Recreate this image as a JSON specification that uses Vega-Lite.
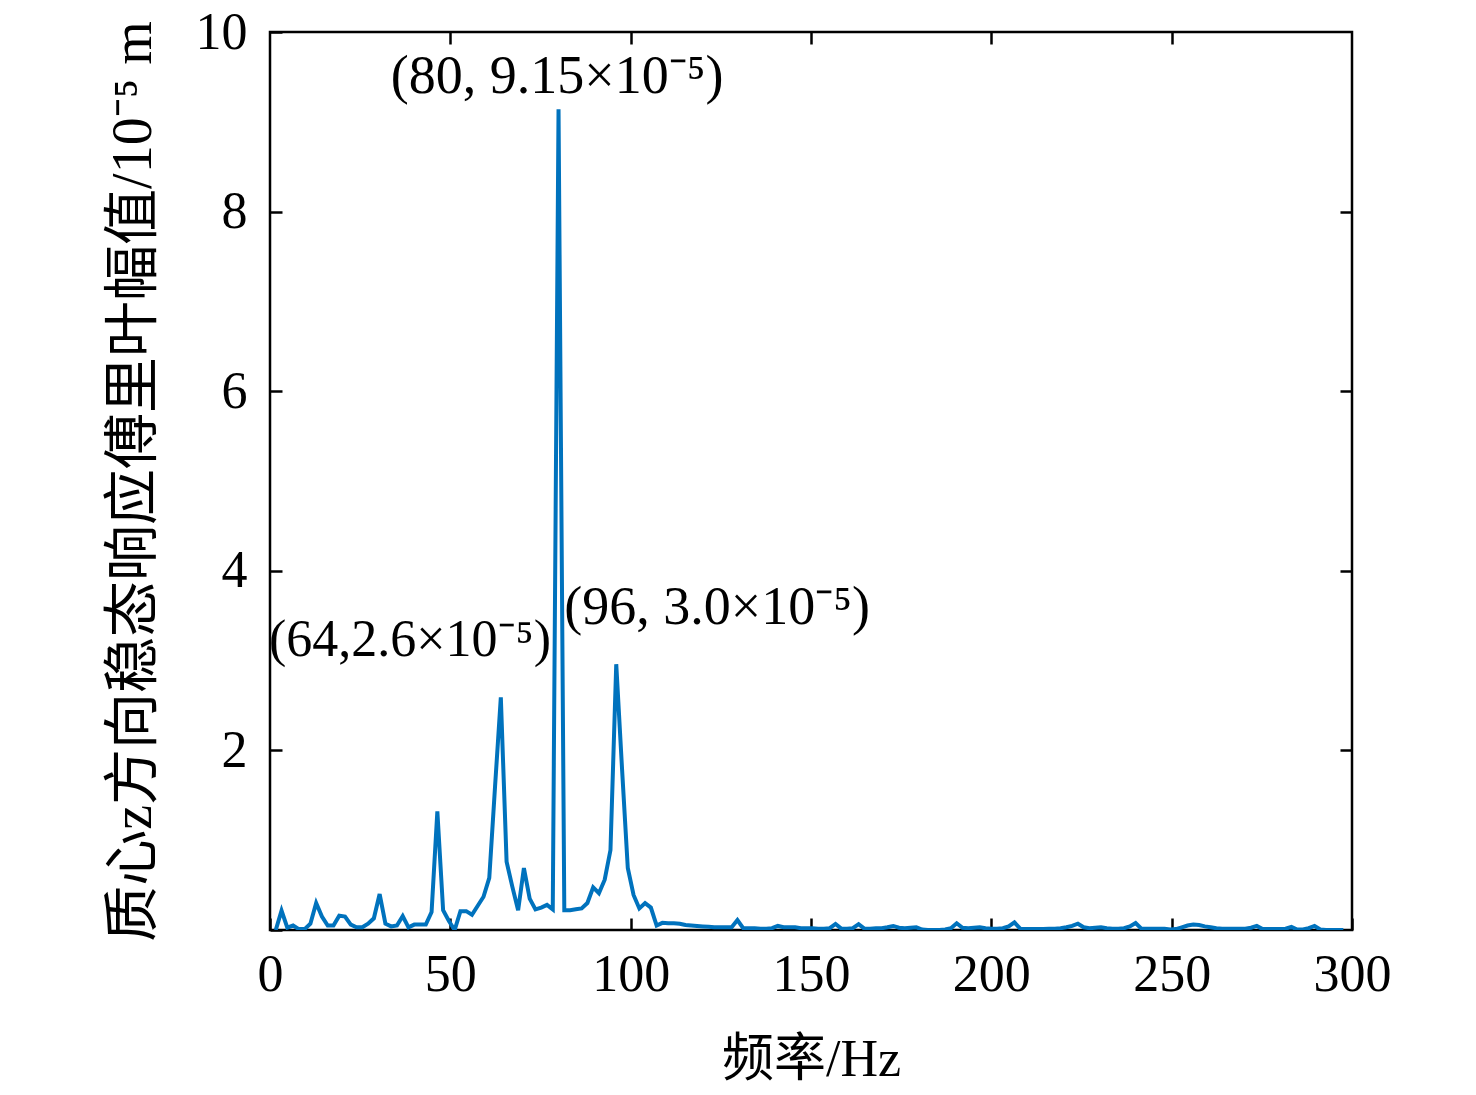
{
  "$schema": "https://vega.github.io/schema/vega-lite/v6.json",
  "width": 1082,
  "height": 898,
  "autosize": {"type": "none"},
  "padding": {"left": 270, "top": 32, "right": 124, "bottom": 165},
  "background": "white",
  "config": {
    "view": {"stroke": "black", "strokeWidth": 2.5},
    "font": "Liberation Serif",
    "axis": {
      "domain": false,
      "grid": false,
      "labelFlush": false,
      "tickColor": "black",
      "tickWidth": 2.5,
      "tickSize": -12,
      "labelFont": "Liberation Serif",
      "labelFontSize": 52,
      "labelColor": "black",
      "titleFont": "Liberation Serif, Noto Sans CJK SC",
      "titleFontSize": 52,
      "titleFontWeight": "normal",
      "titleColor": "black"
    }
  },
  "datasets": {
    "spectrum": [
      {"f": 1.6, "a": 0.0}, {"f": 3.2, "a": 0.215}, {"f": 4.8, "a": 0.026}, {"f": 6.4, "a": 0.05},
      {"f": 8.0, "a": 0.01}, {"f": 9.6, "a": 0.01}, {"f": 11.2, "a": 0.07}, {"f": 12.8, "a": 0.3},
      {"f": 14.4, "a": 0.15}, {"f": 16.0, "a": 0.05}, {"f": 17.6, "a": 0.05}, {"f": 19.2, "a": 0.16},
      {"f": 20.8, "a": 0.15}, {"f": 22.4, "a": 0.06}, {"f": 24.0, "a": 0.03}, {"f": 25.6, "a": 0.03},
      {"f": 27.2, "a": 0.07}, {"f": 28.8, "a": 0.13}, {"f": 30.4, "a": 0.4}, {"f": 32.0, "a": 0.07},
      {"f": 33.6, "a": 0.04}, {"f": 35.2, "a": 0.05}, {"f": 36.8, "a": 0.156}, {"f": 38.4, "a": 0.03},
      {"f": 40.0, "a": 0.06}, {"f": 41.6, "a": 0.06}, {"f": 43.2, "a": 0.06}, {"f": 44.8, "a": 0.2},
      {"f": 46.4, "a": 1.32}, {"f": 48.0, "a": 0.22}, {"f": 49.6, "a": 0.1}, {"f": 51.2, "a": 0.0},
      {"f": 52.8, "a": 0.21}, {"f": 54.4, "a": 0.21}, {"f": 56.0, "a": 0.17}, {"f": 57.6, "a": 0.27},
      {"f": 59.2, "a": 0.37}, {"f": 60.8, "a": 0.58}, {"f": 62.4, "a": 1.6}, {"f": 64.0, "a": 2.59},
      {"f": 65.6, "a": 0.76}, {"f": 67.2, "a": 0.48}, {"f": 68.8, "a": 0.22}, {"f": 70.4, "a": 0.69},
      {"f": 72.0, "a": 0.35}, {"f": 73.6, "a": 0.23}, {"f": 75.2, "a": 0.25}, {"f": 76.8, "a": 0.28},
      {"f": 78.4, "a": 0.23}, {"f": 80.0, "a": 9.14}, {"f": 81.6, "a": 0.22}, {"f": 83.2, "a": 0.22},
      {"f": 84.8, "a": 0.23}, {"f": 86.4, "a": 0.24}, {"f": 88.0, "a": 0.3}, {"f": 89.6, "a": 0.475},
      {"f": 91.2, "a": 0.41}, {"f": 92.8, "a": 0.56}, {"f": 94.4, "a": 0.89}, {"f": 96.0, "a": 2.96},
      {"f": 97.6, "a": 1.8}, {"f": 99.2, "a": 0.69}, {"f": 100.8, "a": 0.39}, {"f": 102.4, "a": 0.24},
      {"f": 104.0, "a": 0.3}, {"f": 105.6, "a": 0.25}, {"f": 107.2, "a": 0.05}, {"f": 108.8, "a": 0.08},
      {"f": 110.4, "a": 0.075}, {"f": 112.0, "a": 0.075}, {"f": 113.6, "a": 0.07}, {"f": 115.2, "a": 0.055},
      {"f": 116.8, "a": 0.05}, {"f": 118.4, "a": 0.045}, {"f": 120.0, "a": 0.04}, {"f": 121.6, "a": 0.035},
      {"f": 123.2, "a": 0.03}, {"f": 124.8, "a": 0.03}, {"f": 126.4, "a": 0.03}, {"f": 128.0, "a": 0.03},
      {"f": 129.6, "a": 0.11}, {"f": 131.2, "a": 0.02}, {"f": 132.8, "a": 0.02}, {"f": 134.4, "a": 0.02},
      {"f": 136.0, "a": 0.015}, {"f": 137.6, "a": 0.015}, {"f": 139.2, "a": 0.02}, {"f": 140.8, "a": 0.045},
      {"f": 142.4, "a": 0.03}, {"f": 144.0, "a": 0.03}, {"f": 145.6, "a": 0.03}, {"f": 147.2, "a": 0.02},
      {"f": 148.8, "a": 0.02}, {"f": 150.4, "a": 0.02}, {"f": 152.0, "a": 0.015}, {"f": 153.6, "a": 0.015},
      {"f": 155.2, "a": 0.02}, {"f": 156.8, "a": 0.067}, {"f": 158.4, "a": 0.015}, {"f": 160.0, "a": 0.015},
      {"f": 161.6, "a": 0.02}, {"f": 163.2, "a": 0.065}, {"f": 164.8, "a": 0.015}, {"f": 166.4, "a": 0.015},
      {"f": 168.0, "a": 0.02}, {"f": 169.6, "a": 0.02}, {"f": 171.2, "a": 0.03}, {"f": 172.8, "a": 0.045},
      {"f": 174.4, "a": 0.025}, {"f": 176.0, "a": 0.02}, {"f": 177.6, "a": 0.025}, {"f": 179.2, "a": 0.03},
      {"f": 180.8, "a": 0.005}, {"f": 182.4, "a": 0.0}, {"f": 184.0, "a": 0.0}, {"f": 185.6, "a": 0.0},
      {"f": 187.2, "a": 0.005}, {"f": 188.8, "a": 0.02}, {"f": 190.4, "a": 0.075}, {"f": 192.0, "a": 0.025},
      {"f": 193.6, "a": 0.02}, {"f": 195.2, "a": 0.025}, {"f": 196.8, "a": 0.03}, {"f": 198.4, "a": 0.02},
      {"f": 200.0, "a": 0.015}, {"f": 201.6, "a": 0.015}, {"f": 203.2, "a": 0.02}, {"f": 204.8, "a": 0.04},
      {"f": 206.4, "a": 0.085}, {"f": 208.0, "a": 0.015}, {"f": 209.6, "a": 0.01}, {"f": 211.2, "a": 0.01},
      {"f": 212.8, "a": 0.01}, {"f": 214.4, "a": 0.01}, {"f": 216.0, "a": 0.015}, {"f": 217.6, "a": 0.015},
      {"f": 219.2, "a": 0.02}, {"f": 220.8, "a": 0.03}, {"f": 222.4, "a": 0.045}, {"f": 224.0, "a": 0.07},
      {"f": 225.6, "a": 0.03}, {"f": 227.2, "a": 0.02}, {"f": 228.8, "a": 0.025}, {"f": 230.4, "a": 0.03},
      {"f": 232.0, "a": 0.02}, {"f": 233.6, "a": 0.015}, {"f": 235.2, "a": 0.015}, {"f": 236.8, "a": 0.02},
      {"f": 238.4, "a": 0.04}, {"f": 240.0, "a": 0.078}, {"f": 241.6, "a": 0.015}, {"f": 243.2, "a": 0.015},
      {"f": 244.8, "a": 0.015}, {"f": 246.4, "a": 0.015}, {"f": 248.0, "a": 0.015}, {"f": 249.6, "a": 0.005},
      {"f": 251.2, "a": 0.01}, {"f": 252.8, "a": 0.03}, {"f": 254.4, "a": 0.05}, {"f": 256.0, "a": 0.06},
      {"f": 257.6, "a": 0.055}, {"f": 259.2, "a": 0.04}, {"f": 260.8, "a": 0.03}, {"f": 262.4, "a": 0.02},
      {"f": 264.0, "a": 0.015}, {"f": 265.6, "a": 0.015}, {"f": 267.2, "a": 0.015}, {"f": 268.8, "a": 0.015},
      {"f": 270.4, "a": 0.015}, {"f": 272.0, "a": 0.025}, {"f": 273.6, "a": 0.045}, {"f": 275.2, "a": 0.01},
      {"f": 276.8, "a": 0.01}, {"f": 278.4, "a": 0.01}, {"f": 280.0, "a": 0.01}, {"f": 281.6, "a": 0.015},
      {"f": 283.2, "a": 0.035}, {"f": 284.8, "a": 0.005}, {"f": 286.4, "a": 0.005}, {"f": 288.0, "a": 0.02},
      {"f": 289.6, "a": 0.045}, {"f": 291.2, "a": 0.005}, {"f": 292.8, "a": 0.0}, {"f": 294.4, "a": 0.0},
      {"f": 296.0, "a": 0.0}, {"f": 297.6, "a": 0.0}
    ],
    "notes": [
      {"f": 79.6, "a": 9.5, "label": "(80, 9.15×10⁻⁵)"},
      {"f": 124.0, "a": 3.59, "label": "(96, 3.0×10⁻⁵)"}
    ],
    "notesTight": [
      {"f": 38.8, "a": 3.23, "label": "(64,2.6×10⁻⁵)"}
    ]
  },
  "layer": [
    {
      "data": {"name": "spectrum"},
      "mark": {"type": "line", "color": "#0072BD", "strokeWidth": 4, "clip": true},
      "encoding": {
        "x": {
          "field": "f",
          "type": "quantitative",
          "scale": {"domain": [0, 300], "nice": false},
          "axis": {
            "orient": "bottom",
            "values": [0, 50, 100, 150, 200, 250, 300],
            "labelPadding": 31,
            "title": "频率/Hz",
            "titlePadding": 34
          }
        },
        "y": {
          "field": "a",
          "type": "quantitative",
          "scale": {"domain": [0, 10], "nice": false},
          "axis": {
            "orient": "left",
            "values": [0, 2, 4, 6, 8, 10],
            "labelExpr": "datum.value == 0 ? '' : datum.label",
            "labelPadding": 35,
            "title": "质心z方向稳态响应傅里叶幅值/10⁻⁵ m",
            "titleFontSize": 56,
            "titlePadding": 33
          }
        }
      }
    },
    {
      "data": {"name": "spectrum"},
      "mark": {"type": "line", "opacity": 0},
      "encoding": {
        "x": {
          "field": "f",
          "type": "quantitative",
          "axis": {"orient": "top", "values": [50, 100, 150, 200, 250], "labels": false, "title": null}
        },
        "y": {
          "field": "a",
          "type": "quantitative",
          "axis": {"orient": "right", "values": [2, 4, 6, 8], "labels": false, "title": null}
        }
      }
    },
    {
      "data": {"name": "notes"},
      "mark": {"type": "text", "font": "Liberation Serif", "fontSize": 54, "color": "black", "align": "center", "baseline": "middle"},
      "encoding": {
        "x": {"field": "f", "type": "quantitative", "axis": null},
        "y": {"field": "a", "type": "quantitative", "axis": null},
        "text": {"field": "label"}
      }
    },
    {
      "data": {"name": "notesTight"},
      "mark": {"type": "text", "font": "Liberation Serif", "fontSize": 52, "color": "black", "align": "center", "baseline": "middle"},
      "encoding": {
        "x": {"field": "f", "type": "quantitative", "axis": null},
        "y": {"field": "a", "type": "quantitative", "axis": null},
        "text": {"field": "label"}
      }
    }
  ],
  "resolve": {"axis": {"x": "independent", "y": "independent"}}
}
